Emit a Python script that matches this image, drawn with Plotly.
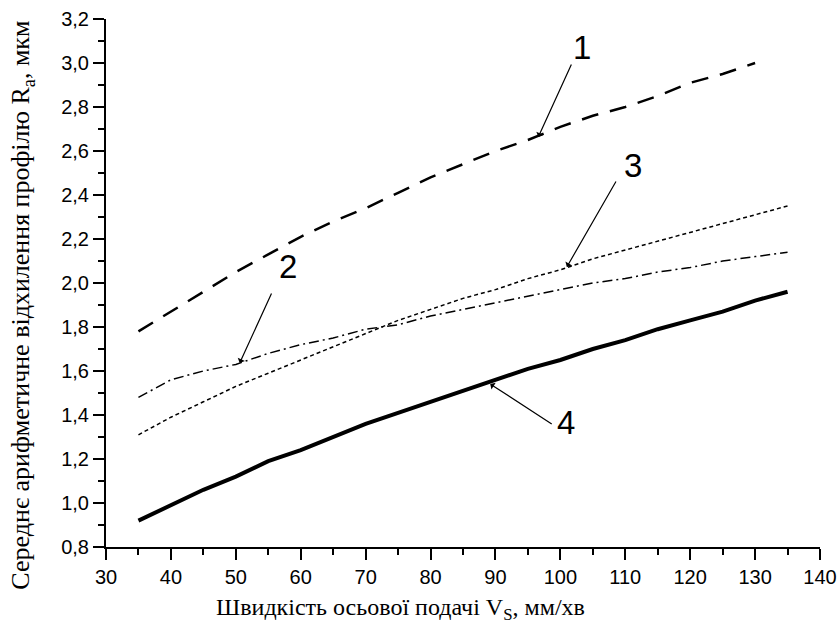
import plotly.graph_objects as go

x_vals = [35, 40, 45, 50, 55, 60, 65, 70, 75, 80, 85, 90, 95, 100, 105, 110, 115, 120, 125, 130, 135]
x_curve1 = x_vals[:-1]
curve1 = [1.78, 1.87, 1.96, 2.05, 2.13, 2.21, 2.28, 2.34, 2.41, 2.48, 2.54, 2.60, 2.65, 2.71, 2.76, 2.80, 2.85, 2.91, 2.95, 3.00]
curve2 = [1.48, 1.56, 1.60, 1.63, 1.68, 1.72, 1.75, 1.79, 1.81, 1.85, 1.88, 1.91, 1.94, 1.97, 2.00, 2.02, 2.05, 2.07, 2.10, 2.12, 2.14]
curve3 = [1.31, 1.39, 1.46, 1.53, 1.59, 1.65, 1.71, 1.77, 1.83, 1.88, 1.93, 1.97, 2.02, 2.06, 2.11, 2.15, 2.19, 2.23, 2.27, 2.31, 2.35]
curve4 = [0.92, 0.99, 1.06, 1.12, 1.19, 1.24, 1.30, 1.36, 1.41, 1.46, 1.51, 1.56, 1.61, 1.65, 1.70, 1.74, 1.79, 1.83, 1.87, 1.92, 1.96]

x_ticks = [30, 40, 50, 60, 70, 80, 90, 100, 110, 120, 130, 140]
y_ticks = [0.8, 1.0, 1.2, 1.4, 1.6, 1.8, 2.0, 2.2, 2.4, 2.6, 2.8, 3.0, 3.2]

x_title = "Швидкість осьової подачі V<sub>S</sub>, мм/хв"
y_title = "Середнє арифметичне відхилення профілю R<sub>a</sub>, мкм"

# labels: (text, text_x, text_y, tail_x, tail_y, tip_x, tip_y)
labels = [
    ("1", 103.3, 3.07, 101.8, 3.00, 96.6, 2.664),
    ("2", 58.0, 2.073, 55.6, 1.959, 50.6, 1.636),
    ("3", 111.2, 2.536, 108.7, 2.468, 101.0, 2.073),
    ("4", 100.9, 1.368, 98.9, 1.355, 89.2, 1.541),
]

SANS = "Liberation Sans, Arial, sans-serif"
SERIF = "Liberation Serif, Times New Roman, DejaVu Serif, serif"

fig = go.Figure()
fig.add_trace(go.Scatter(x=x_curve1, y=curve1, mode="lines",
                         line=dict(color="black", width=2.5, dash="17px,12px")))
fig.add_trace(go.Scatter(x=x_vals, y=curve2, mode="lines",
                         line=dict(color="black", width=1.5, dash="10px,4px,2px,4px")))
fig.add_trace(go.Scatter(x=x_vals, y=curve3, mode="lines",
                         line=dict(color="black", width=1.5, dash="4px,3px")))
fig.add_trace(go.Scatter(x=x_vals, y=curve4, mode="lines",
                         line=dict(color="black", width=4)))

annotations = []
for t, tx, ty, ax_, ay_, px, py in labels:
    annotations.append(dict(x=px, y=py, ax=ax_, ay=ay_, xref="x", yref="y",
                            axref="x", ayref="y", text="", showarrow=True,
                            arrowhead=1, arrowsize=1.1, arrowwidth=1.2, arrowcolor="black"))
    annotations.append(dict(x=tx, y=ty, xref="x", yref="y", text=t, showarrow=False,
                            font=dict(family=SANS, size=33, color="black")))

# axis titles as paper-positioned text (off-centre as in the reference)
annotations.append(dict(x=0.412, y=-0.117, xref="paper", yref="paper", text=x_title,
                        showarrow=False, xanchor="center", yanchor="middle",
                        font=dict(family=SERIF, size=24, color="black")))
annotations.append(dict(x=-0.117, y=0.458, xref="paper", yref="paper", text=y_title,
                        showarrow=False, xanchor="center", yanchor="middle", textangle=-90,
                        font=dict(family=SERIF, size=26, color="black")))

axis_common = dict(showline=True, linecolor="black", linewidth=2, showgrid=False,
                   zeroline=False, ticks="outside", ticklen=11, tickwidth=2, tickcolor="black",
                   tickfont=dict(family=SANS, size=20, color="black"),
                   mirror=False, automargin=False)

fig.update_layout(
    width=839, height=628,
    margin=dict(l=106, r=19, t=19, b=81),
    paper_bgcolor="white", plot_bgcolor="white",
    showlegend=False,
    font=dict(family=SERIF),
    separators=",.",
    annotations=annotations,
    xaxis=dict(range=[30, 140], tickvals=x_ticks, ticktext=[str(v) for v in x_ticks],
               minor=dict(ticks="outside", ticklen=6, tickwidth=2, tickcolor="black", dtick=5, tick0=30),
               **axis_common),
    yaxis=dict(range=[0.8, 3.2], tickvals=y_ticks,
               ticktext=[f"{v:.1f}".replace(".", ",") for v in y_ticks],
               minor=dict(ticks="outside", ticklen=6, tickwidth=2, tickcolor="black", dtick=0.1, tick0=0.8),
               **axis_common),
)

fig.write_html(
    "out.html",
    config={"displayModeBar": False},
    post_script=(
        "document.body.style.margin='0';"
        "document.body.style.overflow='hidden';"
        "document.documentElement.style.overflow='hidden';"
    ),
)
